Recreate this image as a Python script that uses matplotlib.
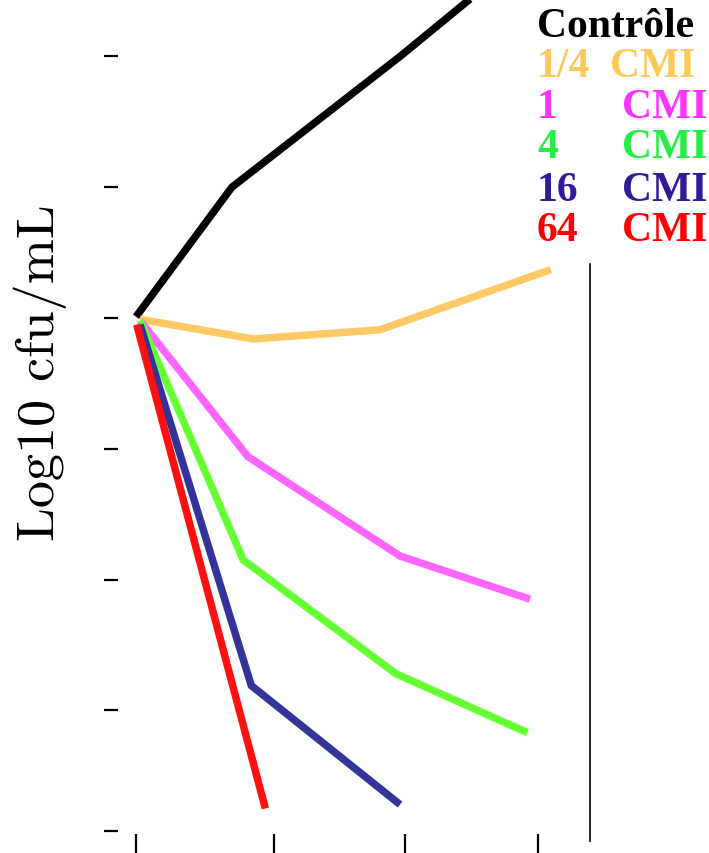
import matplotlib
matplotlib.use("Agg")
import matplotlib.pyplot as plt

# time (h) and log10 cfu/mL
t_ctrl = [0.0, 1.43, 3.94, 6.2]
v_ctrl = [6.01, 7.0, 8.0, 8.95]
t_q = [0.06, 1.75, 3.64, 6.19]
v_q = [5.99, 5.84, 5.91, 6.37]
t_1 = [0.06, 1.67, 3.94, 5.88]
v_1 = [5.98, 4.94, 4.18, 3.85]
t_4 = [0.06, 1.60, 3.88, 5.84]
v_4 = [5.98, 4.15, 3.28, 2.83]
t_16 = [0.06, 1.72, 3.94]
v_16 = [5.95, 3.19, 2.28]
t_64 = [0.01, 1.93]
v_64 = [5.95, 2.25]

xticks = [0, 2.06, 4.02, 6]
yticks = [2.08, 3, 4, 5, 6, 7, 8]

series = [
    (t_ctrl, v_ctrl, "black"),
    (t_q, v_q, "#FFC966"),
    (t_1, v_1, "#FF66FF"),
    (t_4, v_4, "#66FF33"),
    (t_16, v_16, "#333399"),
    (t_64, v_64, "#FF1010"),
]

legend_nums = ["Contrôle", "1/4", "1", "4", "16", "64"]
legend_cols = ["black", "#FFC859", "#FF33FF", "#22EE44", "#331A99", "#FF0000"]

W, H = 709, 854
fig = plt.figure(figsize=(W / 100, H / 100), dpi=100)
ax = fig.add_axes([118 / W, 19 / H, 1 - 118 / W, 1 - 19 / H])

for t, v, c in series:
    ax.plot(t, v, color=c, lw=5.4, solid_capstyle="butt", solid_joinstyle="miter")

# thin vertical line on the right
ax.plot([6.78, 6.78], [6.41, 2.0], color="black", lw=1.2, clip_on=False)

ax.set_xlim(-0.269, 8.55)
ax.set_ylim(2.055, 8.439)
ax.set_xticks(xticks)
ax.set_yticks(yticks)
ax.set_xticklabels([])
ax.set_yticklabels([])
ax.tick_params(axis="y", length=10, width=1.6, direction="out", pad=0)
ax.tick_params(axis="x", length=18, width=1.6, direction="out", pad=0)
for s in ax.spines.values():
    s.set_visible(False)

fig.text(40 / W, 1 - 373 / H, "Log10 cfu/mL", rotation=90, ha="center",
         va="center", family="cmr10", fontsize=39)

base = [37, 77, 118, 158, 201, 241]
kw = dict(fontsize=30, fontweight="bold", family="Liberation Serif",
          va="baseline")
for i, (lab, col) in enumerate(zip(legend_nums, legend_cols)):
    y = 1 - base[i] / H
    fig.text(537 / W, y, lab, color=col, ha="left", **kw)
    if i == 1:
        fig.text(695 / W, y, "CMI", color=col, ha="right", **kw)
    elif i >= 2:
        fig.text(707 / W, y, "CMI", color=col, ha="right", **kw)

fig.savefig("out.png", dpi=100)
